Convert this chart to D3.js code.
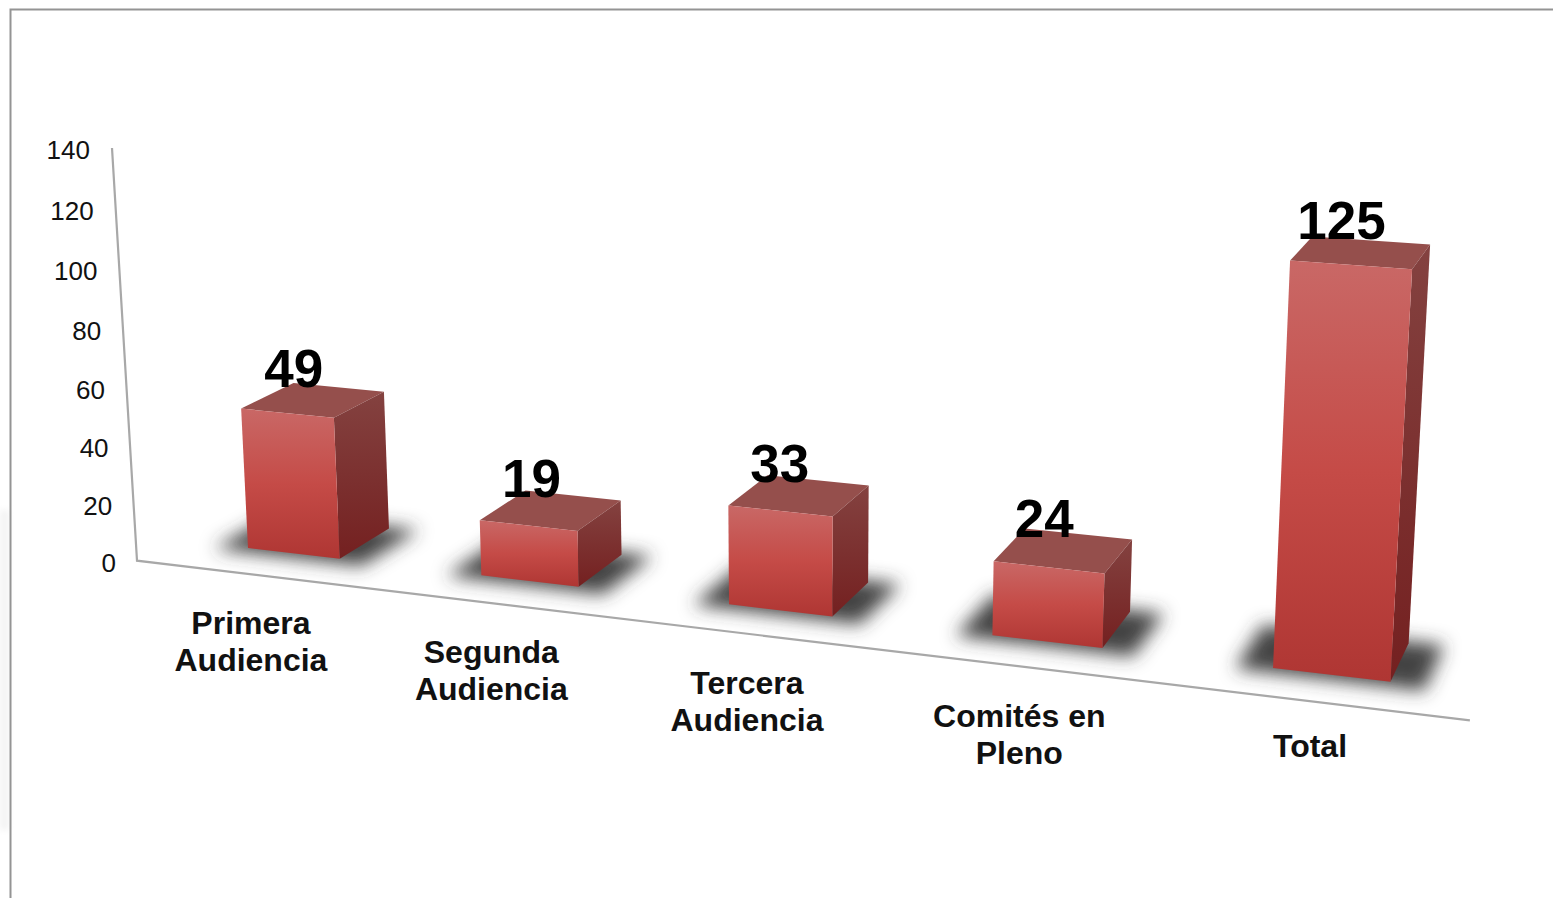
<!DOCTYPE html>
<html><head><meta charset="utf-8">
<script src="https://cdn.jsdelivr.net/npm/d3@7"></script>
<style>html,body{margin:0;padding:0;background:#fff;overflow:hidden}svg{display:block}text{font-family:"Liberation Sans",Arial,sans-serif}</style>
</head><body><svg id="c" width="1553" height="898"></svg>
<script>
const categories = [["Primera","Audiencia"],["Segunda","Audiencia"],["Tercera","Audiencia"],["Comités en","Pleno"],["Total"]];
const values = [49,19,33,24,125];
const yTicks = [0,20,40,60,80,100,120,140];

const svg = d3.select("#c");
const W = 1553, H = 898;
const defs = svg.append("defs");
function grad(id, stops){
  const g = defs.append("linearGradient").attr("id",id).attr("x1",0).attr("y1",0).attr("x2",0).attr("y2",1);
  stops.forEach(([o,c])=>g.append("stop").attr("offset",o).attr("stop-color",c));
}
grad("front",[[0,"#c96866"],[0.5,"#c54b47"],[1,"#af3633"]]);
grad("side",[[0,"#844240"],[1,"#742020"]]);
defs.append("filter").attr("id","blur").attr("x","-30%").attr("y","-60%").attr("width","160%").attr("height","220%")
  .append("feGaussianBlur").attr("stdDeviation",9);
defs.append("filter").attr("id","soft").attr("x","-200%").attr("y","-10%").attr("width","500%").attr("height","120%")
  .append("feGaussianBlur").attr("stdDeviation",3);

// scales: category position along the floor, value up the wall
const uScale = d3.scalePoint().domain(d3.range(categories.length)).range([0,categories.length-1]);
const vScale = d3.scaleLinear().domain([0,140]).range([0,1]);
const axisX = d3.scaleLinear().domain([0,140]).range([137,112]);
const labelX = d3.scaleLinear().domain([0,140]).range([116,90]);

// perspective projection of (u along categories, v value 0..1, d depth)
function project(u,v,d){
  const w = 1 - 0.02895*u - 0.0348*v + 0.0322*d;
  return [(248 + 219.4*u - 28*v + 61.2*d)/w, (548 + 10.66*u - 412.5*v - 12.9*d)/w];
}
const barW = 0.4, uMin = -0.3, uMax = 4.7, dAxis = -0.67;
const pts = a => a.map(p=>p.join(",")).join(" ");

// frame
svg.append("rect").attr("x",0).attr("y",510).attr("width",9).attr("height",320).attr("fill","#f3f3f3").attr("filter","url(#soft)");
svg.append("path").attr("d",`M10.5,${H} V9.5 H${W}`).attr("fill","none").attr("stroke","#949494").attr("stroke-width",2);

// axes
const o = project(uMin,0,dAxis), e = project(uMax,0,dAxis);
svg.append("path").attr("fill","none").attr("stroke","#a8a8a8").attr("stroke-width",2.2)
  .attr("d",d3.line()([[axisX(140),project(uMin,vScale(140),dAxis)[1]],[axisX(0),o[1]],e]));
svg.append("g").selectAll("text").data(yTicks).join("text")
  .attr("x",d=>labelX(d)).attr("y",d=>project(uMin,vScale(d),dAxis)[1]+2)
  .attr("dy","0.35em").attr("text-anchor","end").attr("font-size",26).attr("fill","#111").text(d=>d);

// shadows
svg.append("g").selectAll("polygon").data(values).join("polygon")
  .attr("filter","url(#blur)").attr("fill","#3a3a3a").attr("fill-opacity",0.95)
  .attr("points",(d,i)=>{const u=uScale(i);return pts([project(u-0.12,0,-0.12),project(u+barW+0.12,0,-0.12),project(u+barW+0.12,0,1.05),project(u-0.12,0,1.05)]);});

// bars
const bars = svg.append("g").selectAll("g").data(values).join("g");
bars.append("polygon").attr("fill","#954f4c").attr("points",(d,i)=>{const u=uScale(i),v=vScale(d);
  return pts([project(u,v,0),project(u+barW,v,0),project(u+barW,v,1),project(u,v,1)]);});
bars.append("polygon").attr("fill","url(#side)").attr("points",(d,i)=>{const u=uScale(i),v=vScale(d);
  return pts([project(u+barW,v,0),project(u+barW,v,1),project(u+barW,0,1),project(u+barW,0,0)]);});
bars.append("polygon").attr("fill","url(#front)").attr("points",(d,i)=>{const u=uScale(i),v=vScale(d);
  return pts([project(u,v,0),project(u+barW,v,0),project(u+barW,0,0),project(u,0,0)]);});

// data labels
svg.append("g").selectAll("text").data(values).join("text")
  .attr("x",(d,i)=>project(uScale(i)+barW/2,vScale(d),0.5)[0]-19.5)
  .attr("y",(d,i)=>project(uScale(i)+barW/2,vScale(d),0.5)[1]-13.5)
  .attr("text-anchor","middle").attr("font-size",53).attr("font-weight","bold").attr("fill","#000").text(d=>d);

// category labels
const cat = svg.append("g").selectAll("text").data(categories).join("text")
  .attr("text-anchor","middle").attr("font-size",32).attr("font-weight","bold").attr("fill","#111");
cat.each(function(lines,i){
  const p = project(uScale(i)+barW/2,0,dAxis);
  d3.select(this).selectAll("tspan").data(lines).join("tspan")
    .attr("x",p[0]-7).attr("y",(l,k)=>p[1]+(lines.length>1?60:55)+k*37).text(l=>l);
});
</script></body></html>
